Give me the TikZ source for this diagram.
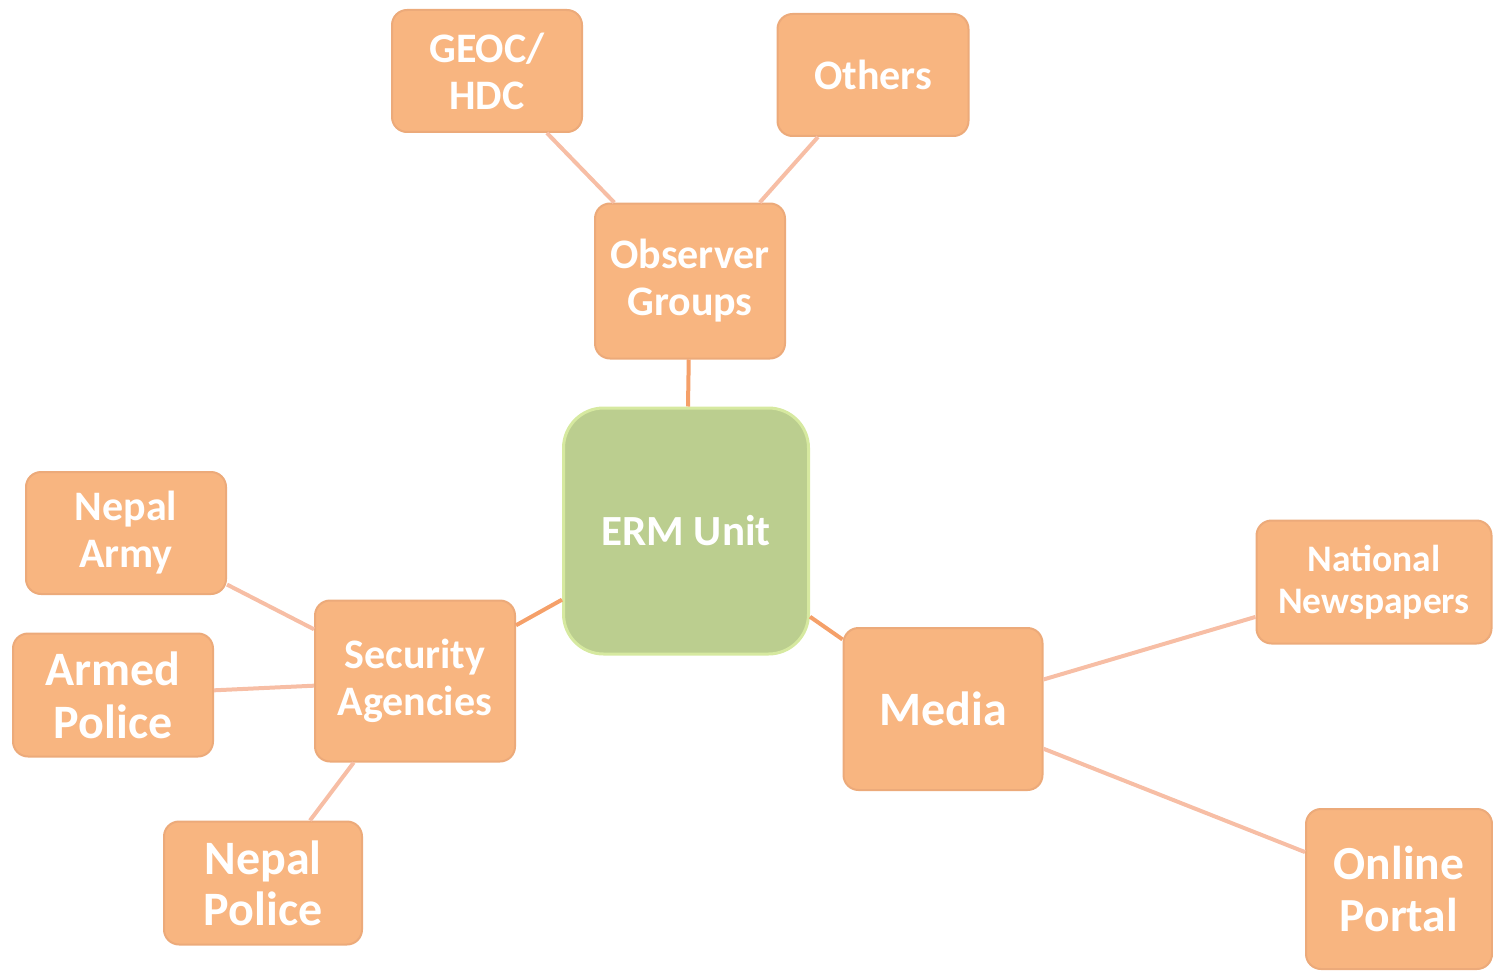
\documentclass[tikz,border=0pt]{standalone}
\usepackage{fontspec}
\setmainfont{Carlito}
\definecolor{boxfill}{RGB}{248,181,128}
\definecolor{boxedge}{RGB}{236,170,122}
\definecolor{hubfill}{RGB}{187,206,143}
\definecolor{hubedge}{RGB}{214,233,160}
\definecolor{linkdark}{RGB}{245,160,105}
\definecolor{linklight}{RGB}{247,190,165}

\begin{document}
\begin{tikzpicture}[x=1pt,y=-1pt,
  box/.style={draw=boxedge,line width=2pt,fill=boxfill,rounded corners=15pt,text=white,
    font=\bfseries\fontsize{42}{47}\selectfont,align=center,inner sep=0pt},
  hub/.style={draw=hubedge,line width=3pt,fill=hubfill,rounded corners=40pt,text=white,
    font=\bfseries\fontsize{43}{48}\selectfont,align=center,inner sep=0pt,
    minimum width=245pt,minimum height=246pt},
  link/.style={draw=linkdark,line width=4pt},
  sublink/.style={draw=linklight,line width=4pt}]
\useasboundingbox (0,0) rectangle (1493,971);
% nodes
\node[hub] (erm) at (686,531) {ERM Unit};
\node[box,minimum width=190pt,minimum height=155pt] (observer) at (690,281) {Observer\\Groups};
\node[box,minimum width=190pt,minimum height=122pt] (geoc) at (487,71) {GEOC/\\HDC};
\node[box,minimum width=191pt,minimum height=122pt] (others) at (873,75) {Others};
\node[box,minimum width=200pt,minimum height=161pt] (security) at (415,681) {Security\\Agencies};
\node[box,minimum width=200pt,minimum height=122pt] (army) at (126,533) {Nepal\\Army};
\node[box,minimum width=200pt,minimum height=123pt,font=\bfseries\fontsize{48}{53}\selectfont] (armed) at (113,695) {Armed\\Police};
\node[box,minimum width=198pt,minimum height=123pt,font=\bfseries\fontsize{48}{51}\selectfont] (police) at (263,883) {Nepal\\Police};
\node[box,minimum width=199pt,minimum height=162pt,font=\bfseries\fontsize{48}{53}\selectfont] (media) at (943,709) {Media};
\node[box,minimum width=235pt,minimum height=123pt,font=\bfseries\fontsize{37.5}{42}\selectfont] (national) at (1374,582) {National\\Newspapers};
\node[box,minimum width=186pt,minimum height=160pt,font=\bfseries\fontsize{47.5}{52}\selectfont] (online) at (1399,889) {Online\\Portal};
% connectors
\draw[link] (erm) -- (observer);
\draw[link] (erm) -- (security);
\draw[link] (erm) -- (media);
\draw[sublink] (observer) -- (geoc);
\draw[sublink] (observer) -- (others);
\draw[sublink] (security) -- (army);
\draw[sublink] (security) -- (armed);
\draw[sublink] (security) -- (police);
\draw[sublink] (media) -- (national);
\draw[sublink] (media) -- (online);
\end{tikzpicture}
\end{document}
